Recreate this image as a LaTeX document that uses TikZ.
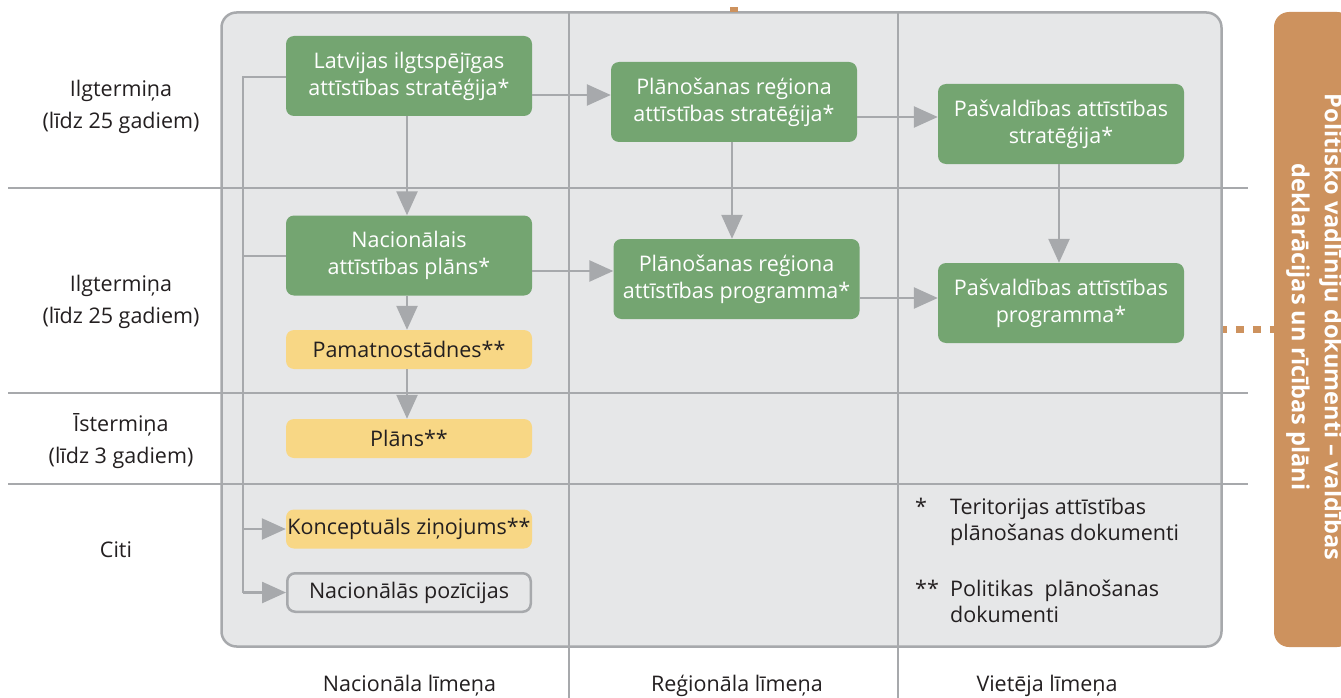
\documentclass[tikz,border=0pt]{standalone}
\usepackage{fontspec}
\setmainfont{Open Sans}
\usetikzlibrary{arrows.meta}

\definecolor{paneFill}{HTML}{E6E7E8}
\definecolor{lineGray}{HTML}{A7A9AC}
\definecolor{docGreen}{HTML}{74A571}
\definecolor{docYellow}{HTML}{F8D785}
\definecolor{barOrange}{HTML}{CD925E}
\definecolor{ink}{HTML}{231F20}

\newcommand{\pairlines}[2]{\begin{tabular}[t]{@{}c@{}}#1\\#2\end{tabular}}

\begin{document}
\begin{tikzpicture}[x=1pt,y=-1pt,
  txt/.style={font=\fontsize{21.5}{27}\selectfont, text=ink, inner sep=0pt},
  doc/.style={rounded corners=8pt, minimum width=246pt, minimum height=80pt,
    inner sep=0pt, align=center, font=\fontsize{21.5}{27}\selectfont},
  greendoc/.style={doc, fill=docGreen, text=white},
  yellowdoc/.style={doc, fill=docYellow, text=ink, minimum height=39pt},
  plaindoc/.style={doc, draw=lineGray, line width=2.5pt, fill=paneFill, text=ink,
    minimum width=243.5pt, minimum height=38.5pt},
  grid/.style={draw=lineGray, line width=2.5pt},
  link/.style={draw=lineGray, line width=2.5pt, -{Triangle[length=24pt,width=21pt]}},
  joint/.style={draw=lineGray, line width=2.5pt},
  rowlabel/.style={txt, font=\fontsize{21.5}{32}\selectfont, anchor=base},
  collabel/.style={txt, anchor=base},
  note/.style={txt, font=\fontsize{21.5}{26}\selectfont, anchor=base west},
  dotline/.style={draw=barOrange, line width=7pt, dash pattern=on 8pt off 9pt, dash phase=4pt},
]
\useasboundingbox (0,0) rectangle (1341,698);
\clip (0,0) rectangle (1341,698);

% panel and orange side bar
\node[draw=lineGray, line width=2.5pt, fill=paneFill, rounded corners=15pt,
  minimum width=1000pt, minimum height=634pt, inner sep=0pt] (frame) at (721.5,329.5) {};
\node[fill=barOrange, rounded corners=15pt, minimum width=78pt, minimum height=635pt,
  inner sep=0pt] (bar) at (1313,329.5) {};
\node[rotate=-90, align=center, text=white, inner sep=0pt,
  font=\fontsize{23.5}{33}\bfseries\selectfont] (bartext) at (1314.5,327)
  {Politisko vadlīniju dokumenti – valdības\\deklarācijas un rīcības plāni};

% small orange stub above the panel
\fill[barOrange] (730,7) rectangle (738,12.5);

% dotted link from the panel to the bar
\draw[dotline] (frame.east |- 0,329.5) -- (bar.west |- 0,329.5);

% grid
\foreach \yy in {188,393,484} \draw[grid] (8,\yy) -- (1248,\yy);
\foreach \xx in {569,898} \draw[grid] (\xx,12) -- (\xx,698);

% row labels
\node[rowlabel] (r1) at (121,97) {\pairlines{Ilgtermiņa}{(līdz 25 gadiem)}};
\node[rowlabel] (r2) at (121,291) {\pairlines{Ilgtermiņa}{(līdz 25 gadiem)}};
\node[rowlabel] (r3) at (121,431) {\pairlines{Īstermiņa}{(līdz 3 gadiem)}};
\node[rowlabel] (r4) at (116,557) {Citi};

% column labels
\node[collabel] (c1) at (409.5,691) {Nacionāla līmeņa};
\node[collabel] (c2) at (737,691) {Reģionāla līmeņa};
\node[collabel] (c3) at (1047,691) {Vietēja līmeņa};

% documents
\node[greendoc] (lias) at (409,76) {Latvijas ilgtspējīgas\\attīstības stratēģija*};
\node[greendoc] (pras) at (734,102) {Plānošanas reģiona\\attīstības stratēģija*};
\node[greendoc] (pas)  at (1061,124) {Pašvaldības attīstības\\stratēģija*};
\node[greendoc] (nap)  at (409,255.5) {Nacionālais\\attīstības plāns*};
\node[greendoc] (prap) at (736.5,279) {Plānošanas reģiona\\attīstības programma*};
\node[greendoc] (pap)  at (1061,303) {Pašvaldības attīstības\\programma*};
\node[yellowdoc] (pam) at (409,349.5) {Pamatnostādnes**};
\node[yellowdoc] (plans) at (409,438.5) {Plāns**};
\node[yellowdoc] (konc) at (409,529) {Konceptuāls ziņojums**};
\node[plaindoc] (pozi) at (409,592.5) {Nacionālās pozīcijas};

% links between documents
\draw[link] (lias.east |- 0,95) -- (pras.west |- 0,95);
\draw[link] (pras.east |- 0,117) -- (pas.west |- 0,117);
\draw[link] (nap.east |- 0,271) -- (prap.west |- 0,271);
\draw[link] (prap.east |- 0,298) -- (pap.west |- 0,298);
\draw[link] (lias.south -| 407,0) -- (nap.north -| 407,0);
\draw[link] (pras.south -| 732,0) -- (prap.north -| 732,0);
\draw[link] (pas.south -| 1059,0) -- (pap.north -| 1059,0);
\draw[link] (nap.south -| 407,0) -- (pam.north -| 407,0);
\draw[link] (pam.south -| 407,0) -- (plans.north -| 407,0);

% national bracket
\coordinate (spine) at (243,77);
\draw[joint] (lias.west |- spine) -- (spine) -- (spine |- pozi.west);
\draw[joint] (spine |- 0,256) -- (nap.west |- 0,256);
\draw[link] (spine |- konc.west) -- (konc.west);
\draw[link] (spine |- pozi.west) -- (pozi.west);

% legend
\node[note] (n1) at (915,514) {\begin{tabular}[t]{@{}p{35pt}@{}l@{}}*&Teritorijas attīstības\\&plānošanas dokumenti\end{tabular}};
\node[note] (n2) at (915,596) {\begin{tabular}[t]{@{}p{35pt}@{}l@{}}**&Politikas\ \ plānošanas\\&dokumenti\end{tabular}};
\end{tikzpicture}
\end{document}
